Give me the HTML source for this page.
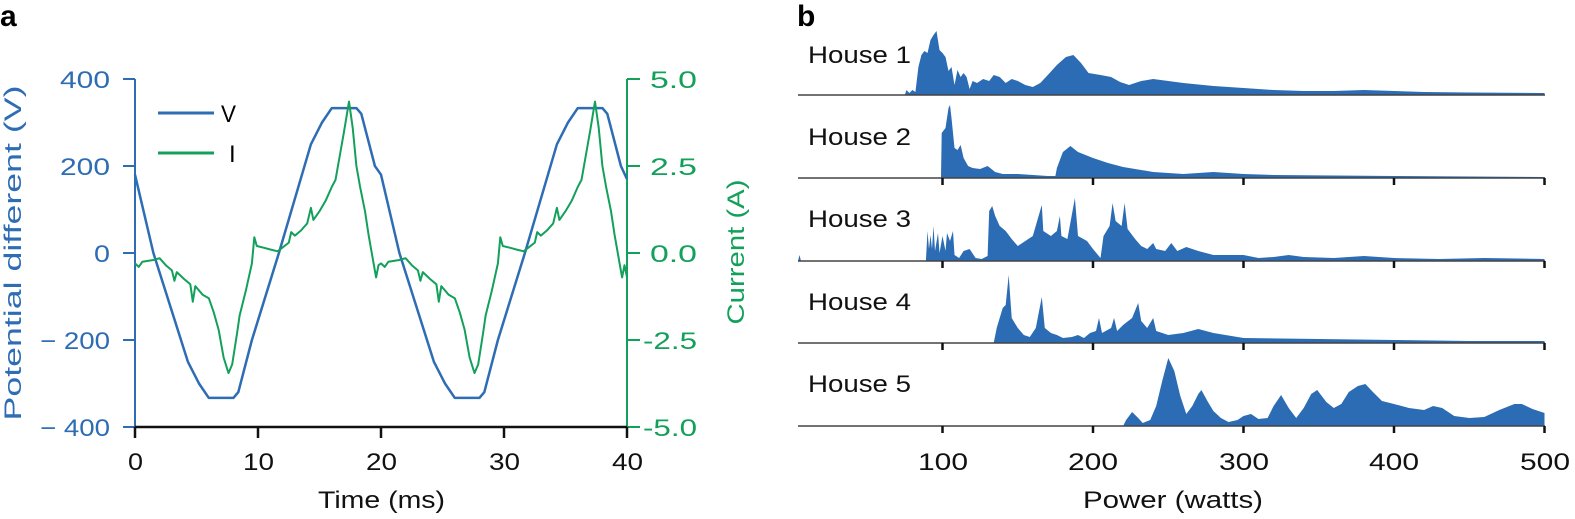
<!DOCTYPE html>
<html><head><meta charset="utf-8"><style>
html,body{margin:0;padding:0;background:#fff;}
svg{display:block;font-family:"Liberation Sans",sans-serif;}
</style></head><body>
<svg id="s" width="1575" height="519" viewBox="0 0 1575 519" xmlns="http://www.w3.org/2000/svg">
<text x="0" y="26" font-size="30" font-weight="bold">a</text>
<text x="797" y="26" font-size="30" font-weight="bold">b</text>
<g stroke="#2e6db4" stroke-width="2">
<line x1="135" y1="79" x2="135" y2="427"/>
<line x1="123" y1="79" x2="135" y2="79"/><line x1="123" y1="166" x2="135" y2="166"/><line x1="123" y1="253" x2="135" y2="253"/><line x1="123" y1="340" x2="135" y2="340"/><line x1="123" y1="427" x2="135" y2="427"/>
</g>
<g stroke="#13a05a" stroke-width="2">
<line x1="627" y1="79" x2="627" y2="427"/>
<line x1="627" y1="79" x2="640" y2="79"/><line x1="627" y1="166" x2="640" y2="166"/><line x1="627" y1="253" x2="640" y2="253"/><line x1="627" y1="340" x2="640" y2="340"/><line x1="627" y1="427" x2="640" y2="427"/>
</g>
<g stroke="#111" stroke-width="2.5">
<line x1="135" y1="427" x2="627" y2="427"/>
<line x1="135" y1="427" x2="135" y2="438"/><line x1="258" y1="427" x2="258" y2="438"/><line x1="381" y1="427" x2="381" y2="438"/><line x1="504" y1="427" x2="504" y2="438"/><line x1="627" y1="427" x2="627" y2="438"/>
</g>
<g fill="#2e6db4" font-size="24" lengthAdjust="spacingAndGlyphs">
<text x="60" y="88" textLength="50" lengthAdjust="spacingAndGlyphs">400</text>
<text x="60" y="175" textLength="50" lengthAdjust="spacingAndGlyphs">200</text>
<text x="94" y="262" textLength="16" lengthAdjust="spacingAndGlyphs">0</text>
<text x="40" y="349" textLength="70" lengthAdjust="spacingAndGlyphs">− 200</text>
<text x="40" y="436" textLength="70" lengthAdjust="spacingAndGlyphs">− 400</text>
</g>
<g fill="#13a05a" font-size="24">
<text x="650" y="88" textLength="47" lengthAdjust="spacingAndGlyphs">5.0</text>
<text x="650" y="175" textLength="47" lengthAdjust="spacingAndGlyphs">2.5</text>
<text x="650" y="262" textLength="47" lengthAdjust="spacingAndGlyphs">0.0</text>
<text x="643" y="349" textLength="54" lengthAdjust="spacingAndGlyphs">-2.5</text>
<text x="643" y="436" textLength="54" lengthAdjust="spacingAndGlyphs">-5.0</text>
</g>
<g fill="#111" font-size="24">
<text x="128" y="470" textLength="15" lengthAdjust="spacingAndGlyphs">0</text>
<text x="243" y="470" textLength="31" lengthAdjust="spacingAndGlyphs">10</text>
<text x="366" y="470" textLength="31" lengthAdjust="spacingAndGlyphs">20</text>
<text x="489" y="470" textLength="31" lengthAdjust="spacingAndGlyphs">30</text>
<text x="612" y="470" textLength="31" lengthAdjust="spacingAndGlyphs">40</text>
<text x="318" y="508" textLength="127" lengthAdjust="spacingAndGlyphs">Time (ms)</text>
</g>
<text transform="translate(21,253) rotate(-90)" fill="#2e6db4" font-size="24" text-anchor="middle" textLength="335" lengthAdjust="spacingAndGlyphs">Potential different (V)</text>
<text transform="translate(744,252) rotate(-90)" fill="#13a05a" font-size="24" text-anchor="middle" textLength="145" lengthAdjust="spacingAndGlyphs">Current (A)</text>
<line x1="158" y1="113" x2="214" y2="113" stroke="#2e6db4" stroke-width="3"/>
<line x1="158" y1="153" x2="214" y2="153" stroke="#13a05a" stroke-width="3"/>
<text x="221" y="122" font-size="24" textLength="15" lengthAdjust="spacingAndGlyphs">V</text>
<text x="229" y="162" font-size="24">I</text>
<path id="vp" fill="none" stroke="#2e6db4" stroke-width="2.5" stroke-linejoin="round"/>
<path id="ip" fill="none" stroke="#13a05a" stroke-width="2" stroke-linejoin="round"/>
<g id="pb"></g>
<g fill="#111" font-size="24">
<text x="808" y="63" textLength="103" lengthAdjust="spacingAndGlyphs">House 1</text>
<text x="808" y="145" textLength="103" lengthAdjust="spacingAndGlyphs">House 2</text>
<text x="808" y="227" textLength="103" lengthAdjust="spacingAndGlyphs">House 3</text>
<text x="808" y="310" textLength="103" lengthAdjust="spacingAndGlyphs">House 4</text>
<text x="808" y="392" textLength="103" lengthAdjust="spacingAndGlyphs">House 5</text>
</g>
<g fill="#111" font-size="24">
<text x="918" y="470" textLength="50" lengthAdjust="spacingAndGlyphs">100</text>
<text x="1068" y="470" textLength="50" lengthAdjust="spacingAndGlyphs">200</text>
<text x="1219" y="470" textLength="50" lengthAdjust="spacingAndGlyphs">300</text>
<text x="1369" y="470" textLength="50" lengthAdjust="spacingAndGlyphs">400</text>
<text x="1520" y="470" textLength="50" lengthAdjust="spacingAndGlyphs">500</text>
<text x="1083" y="508" textLength="180" lengthAdjust="spacingAndGlyphs">Power (watts)</text>
</g>
</svg>
<script>
var X=function(t){return 135+12.3*t}, YV=function(v){return 253-0.435*v}, YI=function(a){return 253-34.8*a};
var V1=[[0,180],[1.5,0],[4.3,-250],[5.2,-300],[6,-333],[8,-333],[8.4,-320],[9.5,-200],[11.7,0],[14.3,250],[15.2,300],[16,333],[18,333],[18.4,320],[19.5,200]];
var d="";
for(var k=0;k<2;k++)V1.forEach(function(p){d+=(d?"L":"M")+X(p[0]+20*k).toFixed(1)+","+YV(p[1]).toFixed(1)});
d+="L"+X(40)+","+YV(170);
document.getElementById("vp").setAttribute("d",d);
var I1=[[0,-0.3],[0.3,-0.4],[0.6,-0.25],[1.5,-0.2],[2,-0.15],[2.5,-0.35],[3,-0.5],[3.2,-0.8],[3.4,-0.55],[4,-0.75],[4.5,-0.9],[4.7,-1.4],[4.9,-0.95],[5.5,-1.2],[6,-1.3],[6.4,-1.7],[6.8,-2.2],[7.2,-3.0],[7.6,-3.45],[7.9,-3.2],[8.3,-2.3],[8.5,-1.8],[9,-1.1],[9.5,-0.3],[9.7,0.45],[9.9,0.2],[10.5,0.15],[11,0.1],[11.6,0.05],[12.5,0.3],[12.7,0.6],[13,0.5],[13.5,0.65],[14,0.85],[14.3,1.3],[14.5,0.95],[15,1.2],[15.5,1.5],[16,1.9],[16.3,2.1],[16.6,2.7],[17,3.5],[17.4,4.35],[17.7,3.6],[18,2.5],[18.3,1.9],[18.7,1.2],[19,0.5],[19.4,-0.3],[19.6,-0.7],[19.8,-0.35]];
d="";
for(var k=0;k<2;k++)I1.forEach(function(p){d+=(d?"L":"M")+X(p[0]+20*k).toFixed(1)+","+YI(p[1]).toFixed(1)});
d+="L"+X(40)+","+YI(-0.7);
document.getElementById("ip").setAttribute("d",d);
var H=[
[95,[[75,0],[76,5],[78,2],[80,5],[82,3],[84,28],[86,40],[88,44],[90,42],[92,55],[94,60],[96,64],[98,45],[100,42],[102,38],[104,24],[106,28],[108,10],[110,25],[112,18],[114,22],[116,18],[118,6],[120,14],[123,12],[127,16],[131,14],[134,20],[138,18],[142,12],[146,16],[150,14],[155,10],[160,8],[165,12],[170,20],[176,30],[182,38],[187,40],[192,32],[197,22],[205,20],[212,18],[218,13],[224,10],[232,14],[240,16],[250,14],[260,12],[280,9],[300,7],[320,5],[340,4],[360,4],[380,5],[400,4],[420,3],[450,2.5],[500,2]]],
[178,[[99,0],[99.5,45],[102,50],[104,70],[105,73],[106,60],[108,30],[110,28],[112,33],[114,20],[117,12],[120,10],[125,9],[130,12],[135,6],[140,4],[150,4],[160,3],[170,2],[175,2],[176,10],[180,26],[185,32],[190,26],[200,20],[210,15],[220,11],[240,6],[260,4],[280,6],[300,4],[320,3],[400,2],[500,1]]],
[261,[[4,0],[5,6],[6,0],[89,0],[90,30],[91,12],[92,26],[93,12],[94,35],[95,10],[97,28],[98,8],[100,25],[102,10],[103,28],[105,20],[107,30],[108,6],[111,3],[114,10],[118,12],[122,3],[126,2],[130,5],[131,50],[133,55],[135,45],[138,35],[142,30],[146,22],[150,15],[155,20],[160,25],[166,56],[167,30],[172,25],[176,30],[178,45],[179,25],[183,22],[188,63],[190,25],[196,20],[200,12],[205,3],[207,25],[211,35],[213,58],[215,40],[219,35],[221,58],[223,32],[228,22],[232,15],[236,12],[240,18],[242,12],[248,10],[252,18],[256,10],[262,14],[270,10],[280,6],[290,6],[300,6],[310,3],[320,4],[330,6],[340,4],[360,3],[380,5],[400,3],[430,2],[460,3],[500,2]]],
[343,[[134,0],[136,15],[140,35],[142,38],[144,68],[146,25],[150,15],[154,8],[158,6],[162,15],[166,46],[168,15],[172,10],[176,8],[180,5],[186,6],[190,8],[194,5],[198,10],[202,12],[204,25],[206,10],[212,15],[214,25],[216,12],[220,18],[226,25],[230,40],[232,22],[236,15],[240,25],[242,12],[250,8],[260,10],[270,14],[280,10],[300,5],[350,4],[400,3],[450,2],[500,2]]],
[426,[[220,0],[222,6],[226,14],[230,8],[233,3],[238,6],[242,20],[246,45],[250,68],[254,55],[258,30],[262,12],[266,20],[270,32],[272,36],[276,25],[280,15],[285,8],[290,4],[296,6],[300,10],[305,12],[310,7],[316,8],[320,20],[325,31],[330,18],[335,8],[340,18],[345,32],[349,36],[355,24],[360,18],[365,22],[370,34],[376,40],[381,42],[386,34],[392,25],[400,22],[410,18],[420,16],[426,20],[432,18],[440,10],[450,8],[460,9],[470,16],[480,22],[485,22],[492,17],[500,13]]]
];
var g=document.getElementById("pb"),h="";
var PX=function(w){return 792+1.505*w};
H.forEach(function(r,i){var b=r[0],pts=r[1],s="M"+PX(pts[0][0]).toFixed(1)+","+b;
pts.forEach(function(p){s+="L"+PX(p[0]).toFixed(1)+","+(b-p[1]).toFixed(1)});
s+="L"+PX(pts[pts.length-1][0]).toFixed(1)+","+b+"Z";
h+='<path d="'+s+'" fill="#2b6cb4"/>';
h+='<line x1="798" y1="'+b+'" x2="1545" y2="'+b+'" stroke="#444" stroke-width="1.5"/>';
if(i>0){[100,200,300,400,500].forEach(function(w){h+='<line x1="'+PX(w)+'" y1="'+b+'" x2="'+PX(w)+'" y2="'+(b+7)+'" stroke="#111" stroke-width="2.5"/>'})}
});
g.innerHTML=h;
</script>
</body></html>
